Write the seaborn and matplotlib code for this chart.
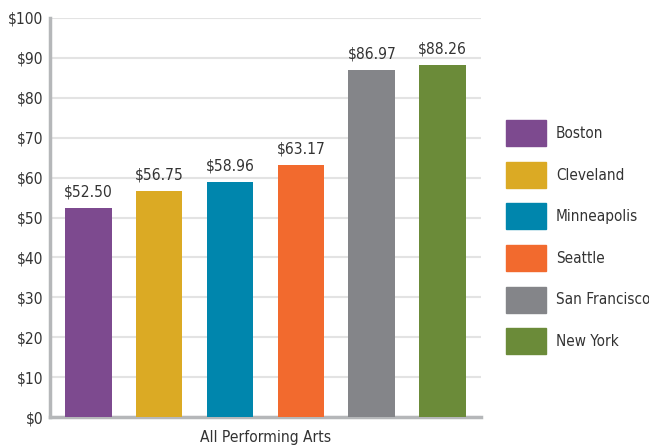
import pandas as pd
import matplotlib.pyplot as plt
import seaborn as sns

# Average ticket price by city
cities = ['Boston', 'Cleveland', 'Minneapolis', 'Seattle', 'San Francisco', 'New York']
prices = [52.50, 56.75, 58.96, 63.17, 86.97, 88.26]
colors = ['#7d4a8f', '#dbaa24', '#0086ad', '#f26a2e', '#848589', '#6b8b39']
segment = 'All Performing Arts'
yticks = list(range(0, 101, 10))

df = pd.DataFrame({'segment': segment, 'city': cities, 'price': prices})

sns.set_theme(style='white')
plt.rcParams['font.family'] = ['DejaVu Sans']
plt.rcParams['font.stretch'] = 'condensed'
plt.rcParams['text.color'] = '#333333'
fs = 11.2

fig = plt.figure(figsize=(6.49, 4.48), dpi=100)
ax = fig.add_axes([0.077, 0.069, 0.664, 0.891])

sns.barplot(data=df, x='segment', y='price', hue='city', hue_order=cities,
            palette=dict(zip(cities, colors)), saturation=1, width=0.8, gap=0.34,
            linewidth=0, legend=False, ax=ax, zorder=3)

for c in ax.containers:
    ax.bar_label(c, labels=[f'${v:.2f}' for v in c.datavalues], padding=6,
                 fontsize=fs, color='#333333')

ax.set_xlim(-0.405, 0.405)
ax.set_ylim(0, 100)
ax.set_yticks(yticks)
ax.set_yticklabels([f'${t}' for t in yticks])
ax.yaxis.grid(True, color='#e3e3e3', linewidth=1.5, zorder=0)
ax.set_axisbelow(True)
ax.tick_params(axis='both', length=0, labelsize=fs, colors='#333333')
ax.tick_params(axis='x', pad=9)
ax.tick_params(axis='y', pad=5)
ax.set_xlabel('')
ax.set_ylabel('')
for side in ['top', 'right']:
    ax.spines[side].set_visible(False)
for side in ['left', 'bottom']:
    ax.spines[side].set_color('#b5b7b9')
    ax.spines[side].set_linewidth(2.5)

handles = [plt.Rectangle((0, 0), 1, 1, color=col) for col in colors]
fig.legend(handles, cities, loc='upper left', bbox_to_anchor=(0.77, 0.745),
           frameon=False, fontsize=11, handlelength=2.62, handleheight=2.24,
           labelspacing=1.02, handletextpad=0.65, borderaxespad=0)

fig.savefig('out.png', dpi=100)
